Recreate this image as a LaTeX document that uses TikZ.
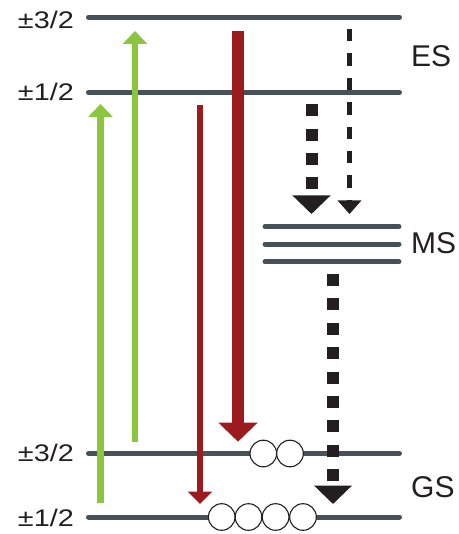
\documentclass[tikz,border=0pt]{standalone}
\usepackage{fontspec}
\setmainfont{Liberation Sans}
\usetikzlibrary{arrows.meta}

\definecolor{levelgray}{HTML}{465158}
\definecolor{emitred}{HTML}{9B1B1F}
\definecolor{pumpgreen}{HTML}{8CC63F}
\definecolor{inkblack}{HTML}{231F20}

\newcommand\spinlabel[1]{\scalebox{1.2}[1]{#1}}

\begin{document}
\begin{tikzpicture}[x=1pt,y=-1pt,
  level/.style={levelgray, line width=5pt, line cap=round},
  spin/.style={inkblack, anchor=base east, inner sep=0pt, font=\fontsize{24}{24}\selectfont},
  state/.style={inkblack, anchor=base west, inner sep=0pt, font=\fontsize{30}{30}\selectfont},
  pump/.style={pumpgreen, line width=6.5pt, -{Triangle[width=24pt,length=13pt]}},
  emitthin/.style={emitred, line width=6pt, -{Triangle[width=24pt,length=12.5pt]}},
  emitthick/.style={emitred, line width=12pt, -{Triangle[width=38pt,length=19pt]}},
  relaxthick/.style={inkblack, line width=12pt, dash pattern=on 12pt off 12.4pt, -{Triangle[width=37pt,length=18.5pt]}},
  relaxthin/.style={inkblack, line width=5.5pt, dash pattern=on 12.5pt off 11.9pt, -{Triangle[width=23pt,length=13.5pt]}},
  ion/.style={circle, draw=inkblack, fill=white, line width=1.1pt, minimum size=26.6pt, inner sep=0pt}
]
\useasboundingbox (0,0) rectangle (458,534);

% energy levels
\coordinate (es3L) at (88.5,17.3);   \coordinate (es3R) at (399.5,17.3);
\coordinate (es1L) at (88.5,92.3);   \coordinate (es1R) at (399.5,92.3);
\coordinate (msaL) at (265,226.7);   \coordinate (msaR) at (399,226.7);
\coordinate (msbL) at (265,244);     \coordinate (msbR) at (399,244);
\coordinate (mscL) at (265,261.7);   \coordinate (mscR) at (399,261.7);
\coordinate (gs3L) at (88.5,453.5);  \coordinate (gs3R) at (399.5,453.5);
\coordinate (gs1L) at (88.5,517);    \coordinate (gs1R) at (399.5,517);

\draw[level] (es3L) -- (es3R);
\draw[level] (es1L) -- (es1R);
\draw[level] (msaL) -- (msaR);
\draw[level] (msbL) -- (msbR);
\draw[level] (mscL) -- (mscR);
\draw[level] (gs3L) -- (gs3R);
\draw[level] (gs1L) -- (gs1R);

% level labels
\node[spin] (lbes3) at (74,29)    {\spinlabel{±3/2}};
\node[spin] (lbes1) at (74,100.5) {\spinlabel{±1/2}};
\node[spin] (lbgs3) at (74,461.7) {\spinlabel{±3/2}};
\node[spin] (lbgs1) at (74,526)   {\spinlabel{±1/2}};
\node[state] (lbes) at (411,66.7)  {ES};
\node[state] (lbms) at (411,253.3) {MS};
\node[state] (lbgs) at (411,497.8) {GS};

% ions in the ground-state sublevels
\node[ion] (q1) at (263.3,453.5) {};
\node[ion] (q2) at (290,453.5) {};
\node[ion] (p1) at (221.7,517) {};
\node[ion] (p2) at (248.5,517) {};
\node[ion] (p3) at (275.6,517) {};
\node[ion] (p4) at (303,517) {};

% pumping (green)
\coordinate (pumpAs) at (100.5,503);  \coordinate (pumpAe) at (100.5,104);
\coordinate (pumpBs) at (135,442);    \coordinate (pumpBe) at (135,31);
\draw[pump] (pumpAs) -- (pumpAe);
\draw[pump] (pumpBs) -- (pumpBe);

% emission (red)
\coordinate (emAs) at (200,105);   \coordinate (emAe) at (200,504);
\coordinate (emBs) at (238,30.7);  \coordinate (emBe) at (238,441.7);
\draw[emitthin] (emAs) -- (emAe);
\draw[emitthick] (emBs) -- (emBe);

% non-radiative relaxation (black, dashed)
\coordinate (rlAs) at (311.5,104.3); \coordinate (rlAe) at (311.5,214);
\coordinate (rlBs) at (349.5,29);    \coordinate (rlBe) at (349.5,214);
\coordinate (rlCs) at (333,274);     \coordinate (rlCe) at (333,504);
\draw[relaxthick] (rlAs) -- (rlAe);
\draw[relaxthin] (rlBs) -- (rlBe);
\draw[relaxthick] (rlCs) -- (rlCe);
\end{tikzpicture}
\end{document}
